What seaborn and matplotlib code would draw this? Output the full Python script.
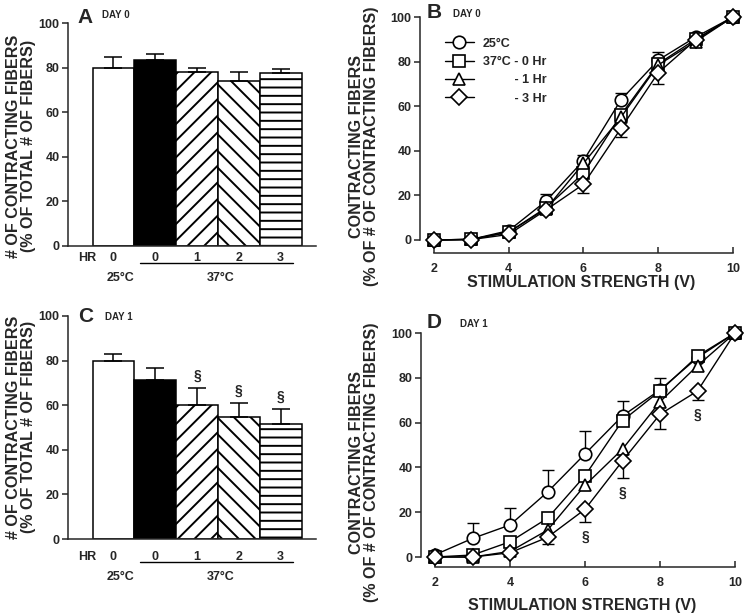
import numpy as np
import pandas as pd
import matplotlib
matplotlib.use('Agg')
import matplotlib.pyplot as plt
import seaborn as sns

# bar panels (A: day 0, C: day 1)
conditions = ['25°C 0', '37°C 0', '37°C 1', '37°C 2', '37°C 3']
hr_labels = ['0', '0', '1', '2', '3']
bar_colors = ['white', 'black', 'white', 'white', 'white']
bar_hatches = ['', '', '//', '\\\\', '--']
day0_mean = [80.0, 83.3, 78.2, 74.0, 77.7]
day0_sem = [4.9, 2.9, 1.8, 4.0, 1.8]
day1_mean = [79.8, 71.2, 60.3, 54.5, 51.6]
day1_sem = [3.3, 5.4, 7.6, 6.4, 6.7]
day1_sig = [False, False, True, True, True]

# line panels (B: day 0, D: day 1)
volts = [2, 3, 4, 5, 6, 7, 8, 9, 10]
series_labels = ['25°C', '37°C - 0 Hr', '         - 1 Hr', '         - 3 Hr']
series_markers = ['o', 's', '^', 'D']
b_25 = [0, 0.3, 4.2, 17.5, 35.6, 62.8, 80.7, 91.0, 100]
b_25_err = [0, 0, 1.0, 3.0, 2.5, 3.2, 3.5, 1.0, 0]
b_0h = [0, 0.3, 3.5, 14.5, 30.0, 56.0, 79.0, 90.0, 100]
b_1h = [0, 0.3, 3.5, 14.0, 34.4, 55.0, 78.5, 89.0, 100]
b_3h = [0, 0.2, 2.5, 13.5, 25.0, 50.0, 75.0, 89.7, 100]
b_3h_err = [0, 0, 0.5, 1.5, 4.0, 4.0, 5.0, 1.0, 0]
d_25 = [1.0, 8.3, 14.3, 29.0, 46.0, 63.0, 74.6, 89.0, 100]
d_25_err = [0, 7.0, 7.4, 10.0, 10.2, 6.6, 5.4, 1.0, 0]
d_0h = [0, 0.9, 6.8, 17.3, 36.3, 60.9, 74.1, 89.7, 100]
d_1h = [0, 0, 2.5, 12.0, 32.0, 48.2, 69.3, 85.4, 100]
d_3h = [0, 0, 1.9, 8.8, 21.3, 42.9, 63.7, 74.1, 100]
d_3h_err = [0, 0, 0.5, 3.0, 5.8, 7.5, 6.7, 4.1, 0]
d_sig = [False, False, False, False, True, True, False, True, False]

sns.set_style('ticks')
plt.rcParams['font.family'] = ['Liberation Sans', 'DejaVu Sans']
plt.rcParams['font.weight'] = 'bold'
plt.rcParams['axes.labelweight'] = 'bold'
plt.rcParams['hatch.linewidth'] = 1.4
plt.rcParams['axes.linewidth'] = 1.1

FS_TICK = 9
FS_LABEL = 11.6

fig = plt.figure(figsize=(7.44, 6.16), dpi=100)
W, H = 744, 616


def px_axes(left, top, right, bottom):
    return fig.add_axes([left / W, 1 - bottom / H, (right - left) / W, (bottom - top) / H])


def bar_panel(ax, means, sems, sig, letter, day, ylab_off):
    df = pd.DataFrame({'cond': conditions, 'mean': means})
    sns.barplot(data=df, x='cond', y='mean', hue='cond', palette=bar_colors,
                width=1.0, edgecolor='black', linewidth=1.1, saturation=1,
                errorbar=None, legend=False, ax=ax)
    for patch, h in zip(ax.patches, bar_hatches):
        patch.set_hatch(h)
    x = np.arange(len(means))
    ax.errorbar(x, means, yerr=[np.zeros(len(sems)), sems], fmt='none',
                ecolor='black', elinewidth=1.1, capsize=6.5, capthick=1.1, zorder=3)
    for xi, m, s, flag in zip(x, means, sems, sig):
        if flag:
            ax.text(xi, m + s + 5.5, '§', ha='center', va='center', fontsize=10)
    ax.set_xlim(-1.089, 4.847)
    ax.set_ylim(0, 100)
    ax.set_yticks(range(0, 101, 20))
    ax.set_xticks([])
    ax.set_xlabel('')
    ax.set_ylabel('')
    sns.despine(ax=ax)
    ax.tick_params(axis='y', direction='out', length=4, width=1.1, labelsize=FS_TICK, pad=2)
    tr = ax.get_xaxis_transform()
    ax.text(-0.63, ylab_off, 'HR', transform=tr, ha='center', va='center', fontsize=FS_TICK)
    for xi, lab in zip(x, hr_labels):
        ax.text(xi, ylab_off, lab, transform=tr, ha='center', va='center', fontsize=FS_TICK)
    ax.plot([0.634, 4.29], [ylab_off - 0.024] * 2, transform=tr, color='black', lw=1, clip_on=False)
    ax.text(0.16, ylab_off - 0.089, '25°C', transform=tr, ha='center', va='center', fontsize=FS_TICK)
    ax.text(2.57, ylab_off - 0.089, '37°C', transform=tr, ha='center', va='center', fontsize=FS_TICK)
    ax.text(letter[1], letter[2], letter[0], transform=ax.transAxes, fontsize=15, va='baseline')
    ax.text(day[1], day[2], day[0], transform=ax.transAxes, fontsize=7, va='baseline')


def line_panel(ax, series, err_up, err_down, sig, ybottom, letter, day, xlab_y, legend):
    for i, (vals, mk, lab) in enumerate(zip(series, series_markers, series_labels)):
        sns.lineplot(x=volts, y=vals, ax=ax, color='black', lw=1, marker=mk,
                     markersize=8.3 if mk != 'o' else 9, markerfacecolor='white',
                     markeredgecolor='black', markeredgewidth=1.2, clip_on=False,
                     label=lab, legend=False, zorder=3 + i)
    ax.errorbar(volts, series[0], yerr=[np.zeros(len(err_up)), err_up], fmt='none',
                ecolor='black', elinewidth=1, capsize=4.5, capthick=1, zorder=2, clip_on=False)
    ax.errorbar(volts, series[3], yerr=[err_down, np.zeros(len(err_down))], fmt='none',
                ecolor='black', elinewidth=1, capsize=4.5, capthick=1, zorder=2, clip_on=False)
    for v, y, e, flag in zip(volts, series[3], err_down, sig):
        if flag:
            ax.text(v, y - e - 6.7, '§', ha='center', va='center', fontsize=10)
    ax.set_xlim(1.626, 10)
    ax.set_ylim(ybottom, 100)
    ax.set_xticks(range(2, 11, 2))
    ax.set_yticks(range(0, 101, 20))
    sns.despine(ax=ax)
    ax.spines['left'].set_bounds(0, 100)
    ax.spines['bottom'].set_bounds(2, 10)
    ax.tick_params(axis='y', direction='out', length=4, width=1.1, labelsize=FS_TICK, pad=2)
    ax.tick_params(axis='x', direction='in', length=4, width=1.1, labelsize=FS_TICK, pad=7)
    ax.set_xlabel('STIMULATION STRENGTH (V)', fontsize=FS_LABEL)
    ax.xaxis.set_label_coords(0.514, xlab_y)
    ax.xaxis.label.set_va('top')
    ax.set_ylabel('')
    ax.text(letter[1], letter[2], letter[0], transform=ax.transAxes, fontsize=15, va='baseline')
    ax.text(day[1], day[2], day[0], transform=ax.transAxes, fontsize=7, va='baseline')
    if legend:
        handles, labels = ax.get_legend_handles_labels()
        ax.legend(handles, labels, loc='upper left', bbox_to_anchor=(0.08, 0.912),
                  frameon=False, fontsize=FS_TICK, handlelength=2.3, handletextpad=0.7,
                  labelspacing=0.5, borderpad=0, borderaxespad=0)


axA = px_axes(68, 23, 316, 246)
axB = px_axes(420, 17, 733, 253)
axC = px_axes(68, 316, 316, 539)
axD = px_axes(421, 333, 735, 567)

bar_panel(axA, day0_mean, day0_sem, [False] * 5, ('A', 0.04, 1.0), ('DAY 0', 0.137, 1.021), -0.054)
bar_panel(axC, day1_mean, day1_sem, day1_sig, ('C', 0.04, 0.974), ('DAY 1', 0.149, 0.982), -0.081)

line_panel(axB, [b_25, b_0h, b_1h, b_3h], b_25_err, b_3h_err, [False] * 9, -5.83,
           ('B', 0.021, 0.9945), ('DAY 0', 0.105, 1.001), -0.093, True)
line_panel(axD, [d_25, d_0h, d_1h, d_3h], d_25_err, d_3h_err, d_sig, -4.46,
           ('D', 0.018, 1.02), ('DAY 1', 0.124, 1.027), -0.132, False)

bar_ylabel = '# OF CONTRACTING FIBERS\n(% OF TOTAL # OF FIBERS)'
line_ylabel = 'CONTRACTING FIBERS\n(% OF # OF CONTRACTING FIBERS)'
fig.text(21 / W, 1 - 146 / H, bar_ylabel, rotation=90, ha='center', va='center',
         multialignment='center', fontsize=FS_LABEL, linespacing=1.05)
fig.text(21 / W, 1 - 427 / H, bar_ylabel, rotation=90, ha='center', va='center',
         multialignment='center', fontsize=FS_LABEL, linespacing=1.05)
fig.text(364 / W, 1 - 146 / H, line_ylabel, rotation=90, ha='center', va='center',
         multialignment='center', fontsize=FS_LABEL, linespacing=1.05)
fig.text(364 / W, 1 - 462 / H, line_ylabel, rotation=90, ha='center', va='center',
         multialignment='center', fontsize=FS_LABEL, linespacing=1.05)

fig.savefig('out.png', dpi=100)
